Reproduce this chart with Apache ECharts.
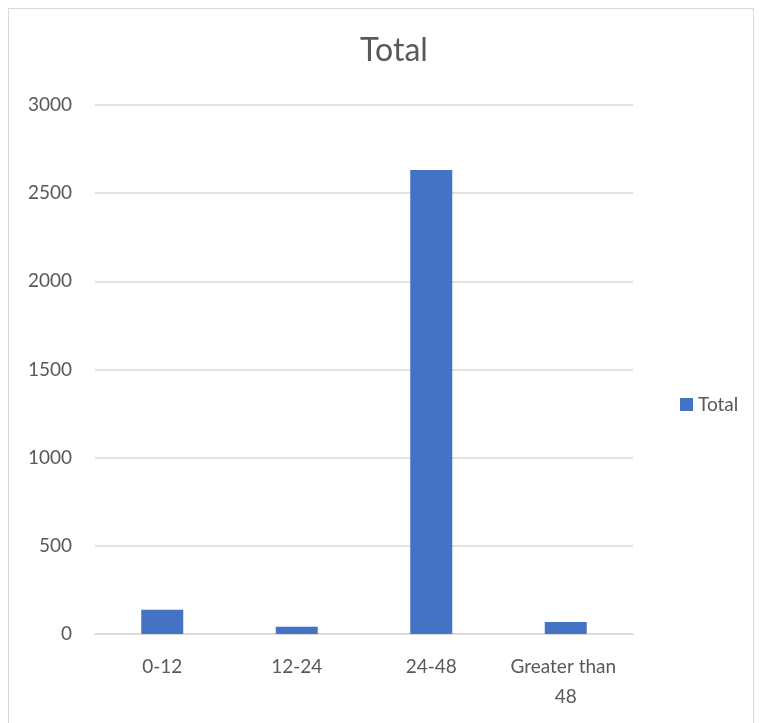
<!DOCTYPE html>
<html><head><meta charset="utf-8">
<script src="https://cdn.jsdelivr.net/npm/echarts@6/dist/echarts.min.js"></script>
<style>
html,body{margin:0;padding:0;background:#fff;}
#frame{position:absolute;left:8px;top:8px;width:746px;height:730px;border:1px solid #d9d9d9;box-sizing:border-box;}
#c{position:absolute;left:0;top:0;width:762px;height:723px;}
</style></head>
<body>
<div id="frame"></div>
<div id="c"></div>
<script>
const categories = ['0-12', '12-24', '24-48', 'Greater than 48'];
const totals = [137, 41, 2632, 68];
const yTicks = [0, 500, 1000, 1500, 2000, 2500, 3000];

const FONT = 'Lato, "Open Sans", sans-serif';
const chart = echarts.init(document.getElementById('c'));
chart.setOption({
  animation: false,
  textStyle: { fontFamily: FONT },
  title: {
    text: 'Total', left: 389, top: 30, textAlign: 'center',
    textStyle: { fontFamily: FONT, fontSize: 32, fontWeight: 'normal', color: '#595959' }
  },
  legend: {
    data: ['Total'], orient: 'vertical', left: 675, top: 390,
    icon: 'rect',
    itemWidth: 13, itemHeight: 13, itemGap: 6,
    textStyle: { fontFamily: FONT, fontSize: 19, color: '#595959' }
  },
  grid: { left: 95, right: 129, top: 105, bottom: 89, containLabel: false },
  xAxis: {
    type: 'category', data: categories,
    axisLine: { lineStyle: { color: '#d9d9d9', width: 1.5 } },
    axisTick: { show: false },
    axisLabel: { fontFamily: FONT, fontSize: 19, color: '#595959', margin: 18, interval: 0,
      width: 130, overflow: 'break', lineHeight: 30 }
  },
  yAxis: {
    type: 'value', min: yTicks[0], max: yTicks[yTicks.length - 1], interval: 500,
    axisLine: { show: false }, axisTick: { show: false },
    axisLabel: { fontFamily: FONT, fontSize: 19, color: '#595959', margin: 23,
      formatter: v => String(v) },
    splitLine: { lineStyle: { color: '#d9d9d9', width: 1.5 } }
  },
  series: [{
    name: 'Total', type: 'bar', data: totals,
    barWidth: 42,
    itemStyle: { color: '#4472c4' }
  }]
});
</script>
</body></html>
